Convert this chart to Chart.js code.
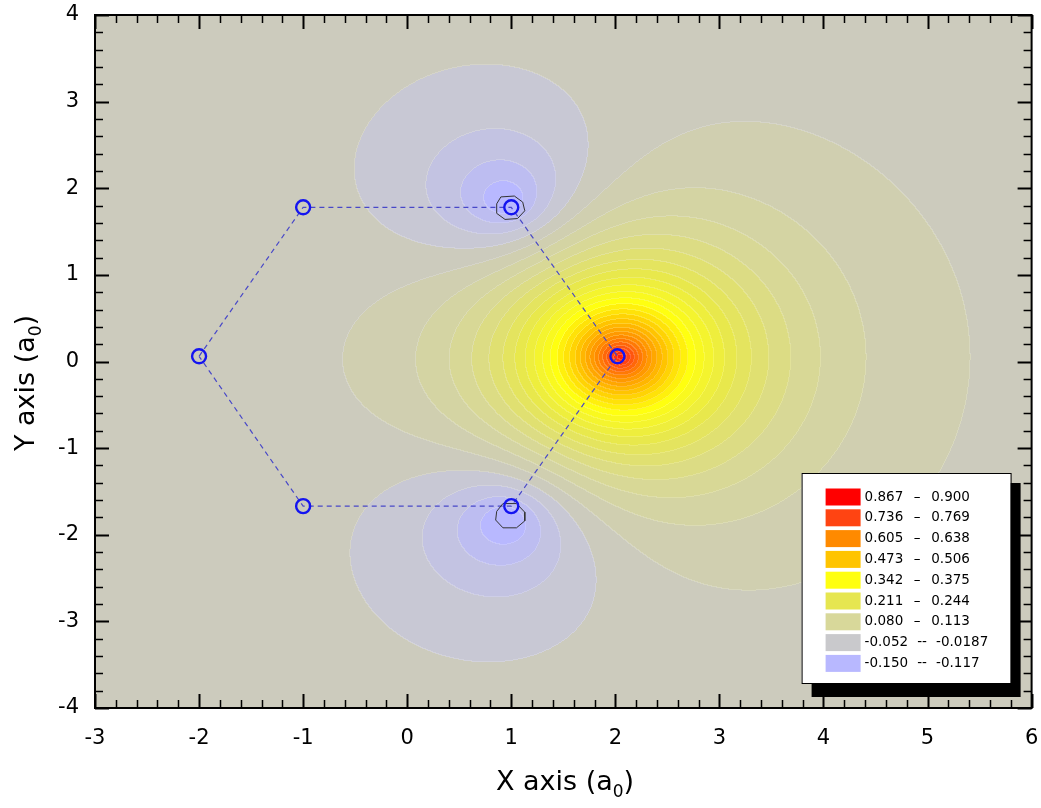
<!DOCTYPE html>
<html>
<head>
<meta charset="utf-8">
<title>Contour</title>
<script src="https://cdn.jsdelivr.net/npm/chart.js@4.4.1/dist/chart.umd.min.js"></script>
<style>
  html, body { margin: 0; padding: 0; background: #fff; }
</style>
</head>
<body>
<canvas id="contourChart" width="1041" height="808"></canvas>
<script>
// atoms and the dashed ring joining them (a0 units)
const atomX = [-2, -1, 1, 2.02, 1, -1];
const atomY = [0.06, 1.78, 1.78, 0.06, -1.67, -1.67];
const bondX = [-2, -1, 1, 2.02, 1, -1, -2];
const bondY = [0.06, 1.78, 1.78, 0.06, -1.67, -1.67, 0.06];

// black contour loops near the two atoms at x = 1
const loopTopX = [0.90, 1.03, 1.11, 1.13, 1.06, 0.94, 0.86, 0.86, 0.90];
const loopTopY = [1.90, 1.91, 1.84, 1.74, 1.65, 1.64, 1.71, 1.82, 1.90];
const loopBotX = [0.92, 1.05, 1.13, 1.13, 1.05, 0.92, 0.85, 0.86, 0.92];
const loopBotY = [-1.64, -1.64, -1.74, -1.84, -1.92, -1.92, -1.83, -1.73, -1.64];

// field sources estimated from the contours: centre, amplitude, decay length
const srcX = [2.05, 0.96, 0.96];
const srcY = [0.05, 1.84, -1.84];
const srcAmp = [0.86, -0.23, -0.23];
const srcDecay = [0.83, 0.78, 0.78];

const levelMin = -0.150;
const levelStep = 0.0328;
const levelCount = 32;

const legendLow = ['0.867', '0.736', '0.605', '0.473', '0.342', '0.211', '0.080', '-0.052', '-0.150'];
const legendHigh = ['0.900', '0.769', '0.638', '0.506', '0.375', '0.244', '0.113', '-0.0187', '-0.117'];
const legendSep = ['\u2013', '\u2013', '\u2013', '\u2013', '\u2013', '\u2013', '\u2013', '--', '--'];
const legendColors = ['#ff0000', '#ff4412', '#ff8a00', '#ffc400', '#ffff10', '#e6e650', '#d8d89a', '#c9c9cc', '#b8b8ff'];

// colour ramp anchors (level index -> colour)
const anchorK = [0, 3, 4, 7, 11, 15, 19, 23, 27, 31];
const anchorColor = ['#b8b8ff', '#c8c8d4', '#cccbbd', '#d8d896', '#e8e84c', '#ffff10', '#ffc400', '#ff8a00', '#ff4412', '#ff0000'];

function hexToRgb(h) {
    return [parseInt(h.substr(1, 2), 16), parseInt(h.substr(3, 2), 16), parseInt(h.substr(5, 2), 16)];
}

function buildPalette() {
    const pal = [];
    for (let k = 0; k < levelCount; k++) {
        let j = 0;
        while (j < anchorK.length - 2 && k > anchorK[j + 1]) j++;
        const a = hexToRgb(anchorColor[j]), b = hexToRgb(anchorColor[j + 1]);
        const t = Math.min(1, Math.max(0, (k - anchorK[j]) / (anchorK[j + 1] - anchorK[j])));
        pal.push([0, 1, 2].map(c => Math.round(a[c] + (b[c] - a[c]) * t)));
    }
    return pal;
}

function fieldValue(x, y) {
    let v = 0;
    for (let i = 0; i < srcX.length; i++) {
        const d = Math.hypot(x - srcX[i], y - srcY[i]);
        v += srcAmp[i] * Math.exp(-d / srcDecay[i]);
    }
    return v;
}

const fieldPlugin = {
    id: 'field',
    beforeDatasetsDraw(chart) {
        const { ctx, chartArea: a, scales } = chart;
        const left = Math.round(a.left), top = Math.round(a.top);
        const w = Math.round(a.right) - left, h = Math.round(a.bottom) - top;
        const pal = buildPalette();
        const xs = [], ys = [];
        for (let i = 0; i < w; i++) xs.push(scales.x.getValueForPixel(left + i + 0.5));
        for (let j = 0; j < h; j++) ys.push(scales.y.getValueForPixel(top + j + 0.5));
        const lev = new Int16Array(w * h);
        for (let j = 0; j < h; j++) {
            for (let i = 0; i < w; i++) {
                let k = Math.floor((fieldValue(xs[i], ys[j]) - levelMin) / levelStep);
                lev[j * w + i] = Math.max(0, Math.min(levelCount - 1, k));
            }
        }
        const img = ctx.createImageData(w, h);
        for (let j = 0; j < h; j++) {
            for (let i = 0; i < w; i++) {
                const k = lev[j * w + i];
                const edge = (i < w - 1 && lev[j * w + i + 1] !== k) || (j < h - 1 && lev[(j + 1) * w + i] !== k);
                const c = pal[k];
                const p = (j * w + i) * 4;
                for (let ch = 0; ch < 3; ch++) {
                    img.data[p + ch] = edge ? Math.round(c[ch] * 0.82 + 255 * 0.18) : c[ch];
                }
                img.data[p + 3] = 255;
            }
        }
        ctx.putImageData(img, left, top);
    }
};

function drawTickMarks(ctx, scale, a, horizontal) {
    const n = Math.round((scale.max - scale.min) / 0.2);
    ctx.strokeStyle = '#000';
    for (let i = 0; i <= n; i++) {
        const v = scale.min + i * 0.2;
        const major = i % 5 === 0;
        const len = major ? 14 : 8;
        const p = Math.round(scale.getPixelForValue(v)) + 0.5;
        ctx.lineWidth = major ? 2 : 1.5;
        ctx.beginPath();
        if (horizontal) {
            ctx.moveTo(p, a.bottom); ctx.lineTo(p, a.bottom - len);
            ctx.moveTo(p, a.top); ctx.lineTo(p, a.top + len);
        } else {
            ctx.moveTo(a.left, p); ctx.lineTo(a.left + len, p);
            ctx.moveTo(a.right, p); ctx.lineTo(a.right - len, p);
        }
        ctx.stroke();
    }
}

function drawSubTitle(ctx, main, sub, tail, cx, cy) {
    const bigFont = '27px "DejaVu Sans", sans-serif';
    const smallFont = '17px "DejaVu Sans", sans-serif';
    ctx.font = bigFont;
    const w1 = ctx.measureText(main).width, w3 = ctx.measureText(tail).width;
    ctx.font = smallFont;
    const w2 = ctx.measureText(sub).width;
    let x = cx - (w1 + w2 + w3) / 2;
    ctx.fillStyle = '#000';
    ctx.textAlign = 'left';
    ctx.textBaseline = 'alphabetic';
    ctx.font = bigFont;
    ctx.fillText(main, x, cy);
    x += w1;
    ctx.font = smallFont;
    ctx.fillText(sub, x, cy + 7);
    x += w2;
    ctx.font = bigFont;
    ctx.fillText(tail, x, cy);
}

const framePlugin = {
    id: 'frame',
    afterDraw(chart) {
        const { ctx, chartArea: a, scales } = chart;
        ctx.save();
        drawTickMarks(ctx, scales.x, a, true);
        drawTickMarks(ctx, scales.y, a, false);
        ctx.lineWidth = 2;
        ctx.strokeStyle = '#000';
        ctx.strokeRect(a.left, a.top, a.right - a.left, a.bottom - a.top);

        // axis titles
        drawSubTitle(ctx, 'X axis (a', '0', ')', 565, 790);
        ctx.save();
        ctx.translate(34, 383);
        ctx.rotate(-Math.PI / 2);
        drawSubTitle(ctx, 'Y axis (a', '0', ')', 0, 0);
        ctx.restore();

        // legend box with drop shadow
        const bx = a.right - 230, by = a.top + 458, bw = 209, bh = 210;
        ctx.fillStyle = '#000';
        ctx.fillRect(bx + 10, by + 10, bw, bh + 4);
        ctx.fillStyle = '#fff';
        ctx.fillRect(bx, by, bw, bh);
        ctx.lineWidth = 1;
        ctx.strokeRect(bx + 0.5, by + 0.5, bw, bh);
        ctx.font = '13.5px "DejaVu Sans", sans-serif';
        ctx.textBaseline = 'middle';
        ctx.textAlign = 'left';
        legendLow.forEach((low, i) => {
            const cy = by + 24 + i * 20.8;
            ctx.fillStyle = legendColors[i];
            ctx.fillRect(bx + 24, cy - 8.5, 35, 17);
            ctx.fillStyle = '#000';
            const tx = bx + 63;
            ctx.fillText(low, tx, cy);
            const wl = ctx.measureText(low).width;
            ctx.textAlign = 'center';
            ctx.fillText(legendSep[i], tx + wl + 14, cy);
            ctx.textAlign = 'left';
            ctx.fillText(legendHigh[i], tx + wl + 28, cy);
        });
        ctx.restore();
    }
};

document.addEventListener('DOMContentLoaded', function() {
    const toPoints = (xs, ys) => xs.map((x, i) => ({ x: x, y: ys[i] }));
    const ctx = document.getElementById('contourChart').getContext('2d');

    new Chart(ctx, {
        type: 'scatter',
        data: {
            datasets: [
                {
                    label: 'atoms',
                    data: toPoints(atomX, atomY),
                    pointRadius: 7,
                    pointBorderWidth: 2.4,
                    pointBorderColor: '#1414f0',
                    pointBackgroundColor: 'rgba(0,0,0,0)',
                    showLine: false
                },
                {
                    label: 'loop top',
                    data: toPoints(loopTopX, loopTopY),
                    showLine: true,
                    borderColor: '#333',
                    borderWidth: 1,
                    pointRadius: 0,
                    tension: 0
                },
                {
                    label: 'loop bottom',
                    data: toPoints(loopBotX, loopBotY),
                    showLine: true,
                    borderColor: '#333',
                    borderWidth: 1,
                    pointRadius: 0,
                    tension: 0
                },
                {
                    label: 'bonds',
                    data: toPoints(bondX, bondY),
                    showLine: true,
                    borderColor: '#4848c8',
                    borderWidth: 1.2,
                    borderDash: [5, 4],
                    pointRadius: 0,
                    tension: 0
                }
            ]
        },
        options: {
            responsive: false,
            animation: false,
            devicePixelRatio: 1,
            layout: { padding: { left: 0, top: 15, right: 8, bottom: 0 } },
            plugins: {
                legend: { display: false },
                tooltip: { enabled: false }
            },
            scales: {
                x: {
                    type: 'linear',
                    min: -3,
                    max: 6,
                    afterFit: (scale) => {
                        scale.height = 100;
                        scale.paddingLeft = 0;
                        scale.paddingRight = 0;
                    },
                    grid: { display: false, drawTicks: false },
                    border: { display: false },
                    ticks: {
                        stepSize: 1,
                        padding: 18,
                        color: '#000',
                        font: { family: '"DejaVu Sans", sans-serif', size: 21 }
                    }
                },
                y: {
                    type: 'linear',
                    min: -4,
                    max: 4,
                    afterFit: (scale) => {
                        scale.width = 95;
                        scale.paddingTop = 0;
                        scale.paddingBottom = 0;
                    },
                    grid: { display: false, drawTicks: false },
                    border: { display: false },
                    ticks: {
                        stepSize: 1,
                        padding: 16,
                        color: '#000',
                        font: { family: '"DejaVu Sans", sans-serif', size: 21 }
                    }
                }
            }
        },
        plugins: [fieldPlugin, framePlugin]
    });
});
</script>
</body>
</html>
